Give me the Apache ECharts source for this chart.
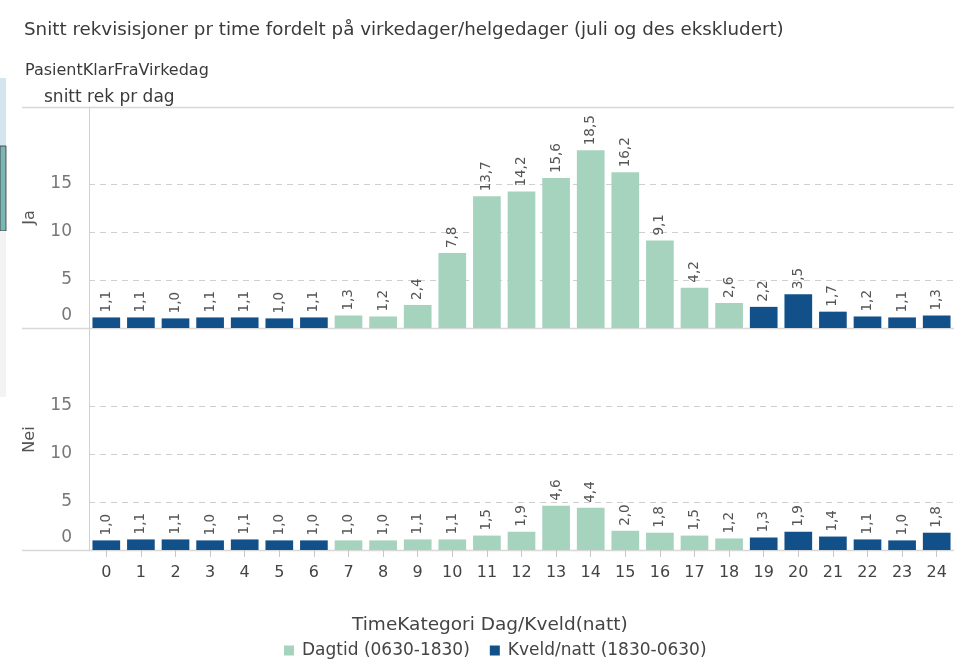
<!DOCTYPE html>
<html>
<head>
<meta charset="utf-8">
<script src="https://cdn.jsdelivr.net/npm/echarts@6/dist/echarts.min.js"></script>
<style>
html, body { margin: 0; padding: 0; background: #fff; }
#chart { width: 954px; height: 668px; }
</style>
</head>
<body>
<div id="chart"></div>
<script>
const hours = ['0','1','2','3','4','5','6','7','8','9','10','11','12','13','14','15','16','17','18','19','20','21','22','23','24'];
const jaValues = [1.1,1.1,1.0,1.1,1.1,1.0,1.1,1.3,1.2,2.4,7.8,13.7,14.2,15.6,18.5,16.2,9.1,4.2,2.6,2.2,3.5,1.7,1.2,1.1,1.3];
const neiValues = [1.0,1.1,1.1,1.0,1.1,1.0,1.0,1.0,1.0,1.1,1.1,1.5,1.9,4.6,4.4,2.0,1.8,1.5,1.2,1.3,1.9,1.4,1.1,1.0,1.8];
// Dagtid = 7..18, resten er kveld/natt
const dagtidHours = [7,8,9,10,11,12,13,14,15,16,17,18];
const yTicks = [0, 5, 10, 15];

const GREEN = '#a5d3bd';
const BLUE = '#12508a';
const FONT = 'DejaVu Sans';

function split(values, day) {
	return values.map((v, i) => (dagtidHours.includes(i) === day ? v : '-'));
}

const chart = echarts.init(document.getElementById('chart'));

const barLabel = {
	show: true,
	position: 'top',
	rotate: 90,
	align: 'left',
	verticalAlign: 'middle',
	distance: 5,
	color: '#555',
	fontSize: 13.5,
	fontFamily: FONT,
	formatter: p => p.value.toFixed(1).replace('.', ',')
};

function yAxis(idx, name) {
	return {
		type: 'value',
		gridIndex: idx,
		min: 0,
		max: 23,
		interval: 5,
		name: name,
		nameLocation: 'middle',
		nameGap: 51,
		nameTextStyle: { color: '#555', fontSize: 16, fontFamily: FONT },
		axisLine: { show: true, lineStyle: { color: '#d0d0d0' } },
		axisTick: { show: false },
		axisLabel: {
			color: '#777',
			fontSize: 17,
			fontFamily: FONT,
			margin: 17,
			formatter: v => (yTicks.includes(v) ? (v === 0 ? '{z|0}' : String(v)) : ''),
			rich: { z: { color: '#777', fontSize: 17, fontFamily: FONT, padding: [0, 0, 24, 0] } }
		},
		splitLine: {
			show: true,
			lineStyle: { type: [6, 5], color: ['transparent', '#cfcfcf', '#cfcfcf', '#cfcfcf', 'transparent', 'transparent'] }
		}
	};
}

function xAxis(idx, showLabels) {
	return {
		type: 'category',
		gridIndex: idx,
		data: hours,
		axisLine: { show: false },
		axisTick: { show: showLabels, alignWithLabel: true, length: 7, lineStyle: { color: '#c8c8c8' } },
		axisLabel: { show: showLabels, color: '#444', fontSize: 16, fontFamily: FONT, margin: 15 }
	};
}

const option = {
	animation: false,
	textStyle: { fontFamily: FONT },
	title: [
		{ text: 'Snitt rekvisisjoner pr time fordelt på virkedager/helgedager (juli og des ekskludert)', left: 19, top: 16,
			textStyle: { fontSize: 18.3, fontWeight: 'normal', color: '#3a3a3a', fontFamily: FONT } },
		{ text: 'PasientKlarFraVirkedag', left: 20, top: 58,
			textStyle: { fontSize: 16, fontWeight: 'normal', color: '#3a3a3a', fontFamily: FONT } },
		{ text: 'snitt rek pr dag', left: 39, top: 84,
			textStyle: { fontSize: 17, fontWeight: 'normal', color: '#3a3a3a', fontFamily: FONT } },
		{ text: 'TimeKategori Dag/Kveld(natt)', left: 347, top: 611,
			textStyle: { fontSize: 18.5, fontWeight: 'normal', color: '#444', fontFamily: FONT } }
	],
	legend: {
		top: 637,
		left: 279,
		itemWidth: 10,
		itemHeight: 10,
		itemGap: 20,
		icon: 'rect',
		textStyle: { color: '#444', fontSize: 17, fontFamily: FONT, padding: [0, 0, 0, 3] },
		data: ['Dagtid (0630-1830)', 'Kveld/natt (1830-0630)']
	},
	grid: [
		{ left: 89, right: -6, top: 107, height: 221 },
		{ left: 89, right: -6, top: 329, height: 221 }
	],
	xAxis: [xAxis(0, false), xAxis(1, true)],
	yAxis: [yAxis(0, 'Ja'), yAxis(1, 'Nei')],
	series: [
		{ name: 'Dagtid (0630-1830)', type: 'bar', stack: 'ja', xAxisIndex: 0, yAxisIndex: 0,
			barCategoryGap: '20%', itemStyle: { color: GREEN }, label: barLabel, data: split(jaValues, true) },
		{ name: 'Kveld/natt (1830-0630)', type: 'bar', stack: 'ja', xAxisIndex: 0, yAxisIndex: 0,
			barCategoryGap: '20%', itemStyle: { color: BLUE }, label: barLabel, data: split(jaValues, false) },
		{ name: 'Dagtid (0630-1830)', type: 'bar', stack: 'nei', xAxisIndex: 1, yAxisIndex: 1,
			barCategoryGap: '20%', itemStyle: { color: GREEN }, label: barLabel, data: split(neiValues, true) },
		{ name: 'Kveld/natt (1830-0630)', type: 'bar', stack: 'nei', xAxisIndex: 1, yAxisIndex: 1,
			barCategoryGap: '20%', itemStyle: { color: BLUE }, label: barLabel, data: split(neiValues, false) }
	],
	graphic: [
		// panel lines running across the full width
		{ type: 'line', shape: { x1: 22, y1: 107.5, x2: 954, y2: 107.5 }, style: { stroke: '#d8d8d8', lineWidth: 1.5 } },
		{ type: 'line', shape: { x1: 22, y1: 328.5, x2: 954, y2: 328.5 }, style: { stroke: '#d8d8d8', lineWidth: 1.5 } },
		{ type: 'line', shape: { x1: 22, y1: 550.5, x2: 954, y2: 550.5 }, style: { stroke: '#d8d8d8', lineWidth: 1.5 } },
		// cropped side panel at the left edge
		{ type: 'rect', shape: { x: 0, y: 78, width: 6, height: 68 }, style: { fill: '#d5e5ed' } },
		{ type: 'rect', shape: { x: 0, y: 146, width: 6, height: 85 }, style: { fill: '#7ab6b3', stroke: '#333', lineWidth: 0.8 } },
		{ type: 'rect', shape: { x: 0, y: 231, width: 6, height: 166 }, style: { fill: '#f3f3f3' } }
	]
};

chart.setOption(option);
</script>
</body>
</html>
